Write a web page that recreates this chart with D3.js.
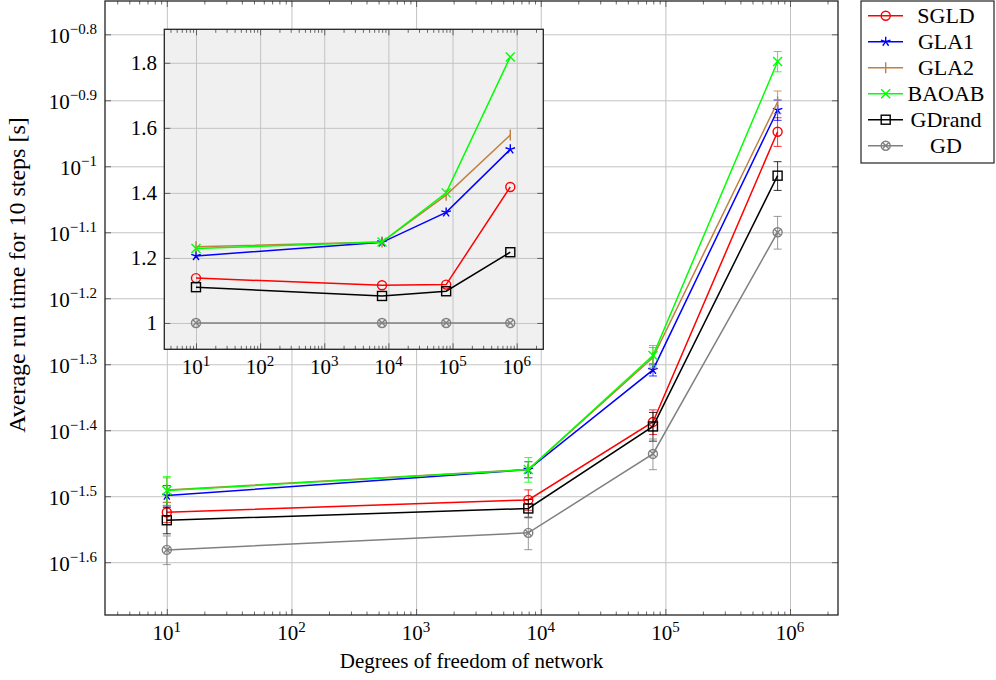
<!DOCTYPE html>
<html>
<head>
<meta charset="utf-8">
<script src="https://cdn.jsdelivr.net/npm/d3@7"></script>
<style>
body { margin: 0; background: #fff; }
</style>
</head>
<body>
<svg width="996" height="680" font-family="'Liberation Serif', 'DejaVu Serif', serif"></svg>
<script>
// ---- data ----
const dof = [10, 7950, 79500, 795000]

// average run time for 10 steps [s]
const sgldTime   = [0.02990, 0.03122, 0.04098, 0.11283]
const gla1Time   = [0.03169, 0.03470, 0.04914, 0.12171]
const gla2Time   = [0.03232, 0.03471, 0.05132, 0.12515]
const baoabTime  = [0.03225, 0.03470, 0.05168, 0.14414]
const gdrandTime = [0.02908, 0.03030, 0.04034, 0.09678]
const gdTime     = [0.02622, 0.02783, 0.03665, 0.07943]

// error bar half widths [s]
const sgldErr   = [0.00106, 0.00111, 0.00176, 0.00564]
const gla1Err   = [0.00112, 0.00097, 0.00103, 0.00432]
const gla2Err   = [0.00139, 0.00097, 0.00182, 0.00490]
const baoabErr  = [0.00161, 0.00149, 0.00183, 0.00510]
const gdrandErr = [0.00134, 0.00096, 0.00202, 0.00484]
const gdErr     = [0.00131, 0.00159, 0.00196, 0.00453]

// inset: run time relative to GD
const sgldRel   = [1.138, 1.116, 1.118, 1.418]
const gla1Rel   = [1.206, 1.248, 1.340, 1.534]
const gla2Rel   = [1.234, 1.249, 1.393, 1.578]
const baoabRel  = [1.229, 1.249, 1.400, 1.818]
const gdrandRel = [1.110, 1.083, 1.0975, 1.2175]
const gdRel     = [1, 1, 1, 1]

const xTickExp = [1, 2, 3, 4, 5, 6]
const yTickExp = [-0.8, -0.9, -1, -1.1, -1.2, -1.3, -1.4, -1.5, -1.6]
const yTickText = ["−0.8", "−0.9", "−1", "−1.1", "−1.2", "−1.3", "−1.4", "−1.5", "−1.6"]
const insetYTicks = [1, 1.2, 1.4, 1.6, 1.8]
const insetYText = ["1", "1.2", "1.4", "1.6", "1.8"]

const series = [
    {name: "SGLD",   color: "#ff0000", mark: "o",      y: sgldTime,   err: sgldErr,   rel: sgldRel},
    {name: "GLA1",   color: "#0000ff", mark: "star",   y: gla1Time,   err: gla1Err,   rel: gla1Rel},
    {name: "GLA2",   color: "#bf8040", mark: "bar",    y: gla2Time,   err: gla2Err,   rel: gla2Rel},
    {name: "BAOAB",  color: "#00ff00", mark: "x",      y: baoabTime,  err: baoabErr,  rel: baoabRel},
    {name: "GDrand", color: "#000000", mark: "square", y: gdrandTime, err: gdrandErr, rel: gdrandRel},
    {name: "GD",     color: "#808080", mark: "otimes", y: gdTime,     err: gdErr,     rel: gdRel}
]

const svg = d3.select("svg")
const gridColor = "#c3c3c3"
const fontSize = 21
const supSize = 15

// minor ticks 2..9 per decade
const minorTicks = []
for (let k = 0; k <= 6; k++) {
    for (let m = 2; m <= 9; m++) minorTicks.push(m * Math.pow(10, k))
}

const drawMark = function(g, type, color, cx, cy) {
    const r = 4.5
    const m = g.append("g")
        .attr("transform", `translate(${cx},${cy})`)
        .attr("stroke", color)
        .attr("fill", "none")
        .attr("stroke-width", 1.4)
    if (type === "o") {
        m.append("circle").attr("r", r)
    } else if (type === "square") {
        m.append("rect").attr("x", -r).attr("y", -r).attr("width", 2 * r).attr("height", 2 * r)
    } else if (type === "x") {
        m.append("path").attr("d", `M${-r},${-r}L${r},${r}M${-r},${r}L${r},${-r}`)
    } else if (type === "bar") {
        m.append("path").attr("d", `M0,${-r - 1}L0,${r + 1}`)
    } else if (type === "star") {
        let d = ""
        for (let i = 0; i < 5; i++) {
            const a = -Math.PI / 2 + i * 2 * Math.PI / 5
            d += `M0,0L${(r + 0.5) * Math.cos(a)},${(r + 0.5) * Math.sin(a)}`
        }
        m.append("path").attr("d", d)
    } else if (type === "otimes") {
        m.append("circle").attr("r", r)
        const q = r * 0.7
        m.append("path").attr("d", `M${-q},${-q}L${q},${q}M${-q},${q}L${q},${-q}`)
    }
}

// draws grid, ticks and frame for a log-x panel
const drawFrame = function(g, x, y, box, yTickValues, bg) {
    const h = box.bottom - box.top
    const w = box.right - box.left
    if (bg) {
        g.append("rect")
            .attr("x", box.left).attr("y", box.top)
            .attr("width", w).attr("height", h)
            .attr("fill", bg)
    }
    const xMajor = xTickExp.map(e => Math.pow(10, e))
    const xMinor = minorTicks.filter(v => v > x.domain()[0] && v < x.domain()[1])

    g.append("g")
        .attr("transform", `translate(0,${box.bottom})`)
        .call(d3.axisBottom(x).tickValues(xMajor).tickSize(-h).tickFormat(""))
        .call(a => a.select(".domain").remove())
        .selectAll("line").attr("stroke", gridColor)
    g.append("g")
        .attr("transform", `translate(${box.left},0)`)
        .call(d3.axisLeft(y).tickValues(yTickValues).tickSize(-w).tickFormat(""))
        .call(a => a.select(".domain").remove())
        .selectAll("line").attr("stroke", gridColor)

    const tickAxes = [
        [d3.axisBottom(x).tickValues(xMinor).tickSize(-3.5), `translate(0,${box.bottom})`],
        [d3.axisTop(x).tickValues(xMinor).tickSize(-3.5), `translate(0,${box.top})`],
        [d3.axisBottom(x).tickValues(xMajor).tickSize(-6), `translate(0,${box.bottom})`],
        [d3.axisTop(x).tickValues(xMajor).tickSize(-6), `translate(0,${box.top})`],
        [d3.axisLeft(y).tickValues(yTickValues).tickSize(-6), `translate(${box.left},0)`],
        [d3.axisRight(y).tickValues(yTickValues).tickSize(-6), `translate(${box.right},0)`]
    ]
    tickAxes.forEach(([gen, tr]) => {
        g.append("g")
            .attr("transform", tr)
            .call(gen.tickFormat(""))
            .call(a => a.select(".domain").remove())
            .selectAll("line").attr("stroke", "#444").attr("stroke-width", 0.8)
    })

    // x tick labels 10^k
    xTickExp.forEach(e => {
        const t = g.append("text")
            .attr("x", x(Math.pow(10, e)))
            .attr("y", box.bottom + 25)
            .attr("text-anchor", "middle")
            .attr("font-size", fontSize)
            .text("10")
        t.append("tspan").attr("dy", -8).attr("font-size", supSize).text(e)
    })
}

const drawSeries = function(g, x, y, key, withErr) {
    series.forEach(s => {
        const vals = s[key]
        const pts = dof.map((d, i) => [x(d), y(vals[i])])
        const sg = g.append("g")
        if (withErr) {
            dof.forEach((d, i) => {
                const y0 = y(vals[i] - s.err[i])
                const y1 = y(vals[i] + s.err[i])
                const cx = x(d)
                sg.append("path")
                    .attr("d", `M${cx},${y0}L${cx},${y1}M${cx - 4},${y0}L${cx + 4},${y0}M${cx - 4},${y1}L${cx + 4},${y1}`)
                    .attr("stroke", s.color)
                    .attr("stroke-width", 1)
                    .attr("fill", "none")
                    .attr("opacity", 0.8)
            })
        }
        sg.append("path")
            .attr("d", d3.line()(pts))
            .attr("fill", "none")
            .attr("stroke", s.color)
            .attr("stroke-width", 1.5)
        pts.forEach(p => drawMark(sg, s.mark, s.color, p[0], p[1]))
    })
}

// ---- main panel ----
const main = {left: 105, right: 838, top: 1, bottom: 615}
const xMain = d3.scaleLog()
    .domain([Math.pow(10, 0.504), Math.pow(10, 6.385)])
    .range([main.left, main.right])
const yMain = d3.scaleLog()
    .domain([Math.pow(10, -1.680), Math.pow(10, -0.7495)])
    .range([main.bottom, main.top])

const mainG = svg.append("g")
drawFrame(mainG, xMain, yMain, main, yTickExp.map(e => Math.pow(10, e)), null)

yTickExp.forEach((e, i) => {
    const t = mainG.append("text")
        .attr("x", 97)
        .attr("y", yMain(Math.pow(10, e)) + 8.5)
        .attr("text-anchor", "end")
        .attr("font-size", fontSize)
        .text("10")
    t.append("tspan").attr("dy", -9).attr("font-size", supSize).text(yTickText[i])
})

drawSeries(mainG, xMain, yMain, "y", true)

mainG.append("rect")
    .attr("x", main.left).attr("y", main.top)
    .attr("width", main.right - main.left).attr("height", main.bottom - main.top)
    .attr("fill", "none").attr("stroke", "#222").attr("stroke-width", 1.3)

mainG.append("text")
    .attr("x", (main.left + main.right) / 2)
    .attr("y", 668)
    .attr("text-anchor", "middle")
    .attr("font-size", fontSize)
    .text("Degrees of freedom of network")

mainG.append("text")
    .attr("transform", "translate(25,275) rotate(-90)")
    .attr("text-anchor", "middle")
    .attr("font-size", 24)
    .text("Average run time for 10 steps [s]")

// ---- inset ----
const inset = {left: 164.3, right: 543.3, top: 29.3, bottom: 349.3}
const xInset = d3.scaleLog()
    .domain([Math.pow(10, 0.506), Math.pow(10, 6.415)])
    .range([inset.left, inset.right])
const yInset = d3.scaleLinear()
    .domain([0.919, 1.903])
    .range([inset.bottom, inset.top])

const insetG = svg.append("g")
drawFrame(insetG, xInset, yInset, inset, insetYTicks, "#f0f0f0")

insetYTicks.forEach((v, i) => {
    insetG.append("text")
        .attr("x", 157)
        .attr("y", yInset(v) + 7)
        .attr("text-anchor", "end")
        .attr("font-size", fontSize)
        .text(insetYText[i])
})

drawSeries(insetG, xInset, yInset, "rel", false)

insetG.append("rect")
    .attr("x", inset.left).attr("y", inset.top)
    .attr("width", inset.right - inset.left).attr("height", inset.bottom - inset.top)
    .attr("fill", "none").attr("stroke", "#222").attr("stroke-width", 1.3)

// ---- legend ----
const legend = svg.append("g")
legend.append("rect")
    .attr("x", 861).attr("y", 1)
    .attr("width", 133).attr("height", 162)
    .attr("fill", "#fff").attr("stroke", "#222").attr("stroke-width", 1.2)

series.forEach((s, i) => {
    const ly = 15.7 + i * 26
    legend.append("line")
        .attr("x1", 868).attr("x2", 903)
        .attr("y1", ly).attr("y2", ly)
        .attr("stroke", s.color).attr("stroke-width", 1.5)
    drawMark(legend, s.mark, s.color, 885.7, ly)
    legend.append("text")
        .attr("x", 946)
        .attr("y", ly + 7.5)
        .attr("text-anchor", "middle")
        .attr("font-size", 22)
        .text(s.name)
})
</script>
</body>
</html>
